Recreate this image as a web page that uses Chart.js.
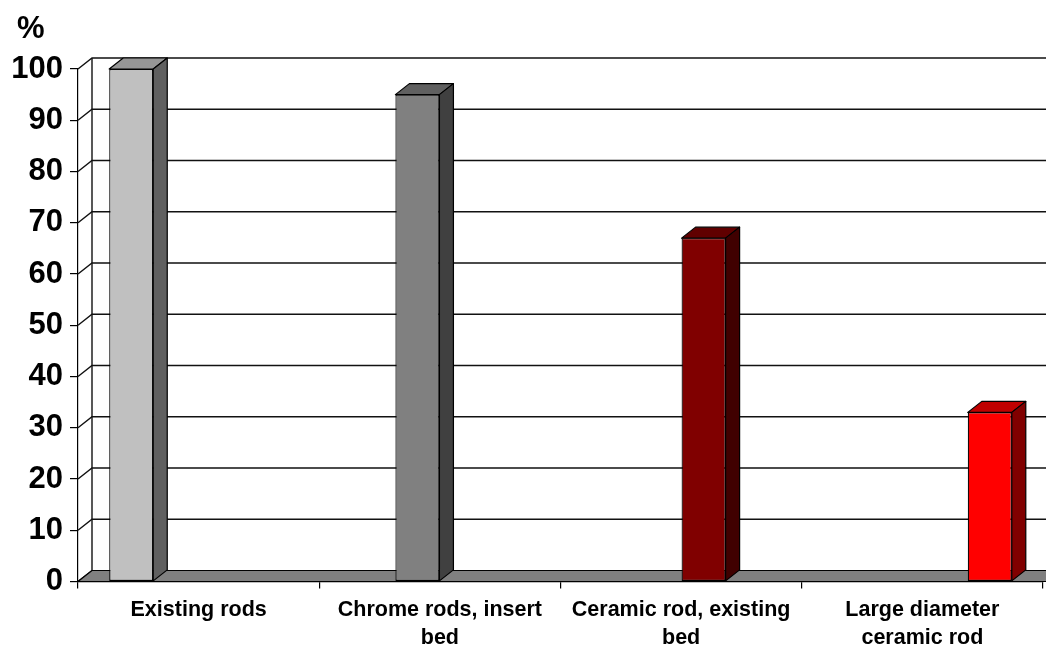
<!DOCTYPE html>
<html>
<head>
<meta charset="utf-8">
<script src="https://cdn.jsdelivr.net/npm/chart.js@4/dist/chart.umd.min.js"></script>
<style>
  html, body { margin: 0; padding: 0; background: #ffffff; }
  #wrap { width: 1046px; height: 648px; }
</style>
</head>
<body>
<div id="wrap"><canvas id="chart" width="1046" height="648"></canvas></div>
<script>
// Categories (multi-line tick labels)
const categories = [
  ['Existing rods'],
  ['Chrome rods, insert', 'bed'],
  ['Ceramic rod, existing', 'bed'],
  ['Large diameter', 'ceramic rod']
];
// One series per rod configuration, value in percent
const seriesNames = ['Existing rods', 'Chrome rods, insert bed', 'Ceramic rod, existing bed', 'Large diameter ceramic rod'];
const seriesValues = [100, 95, 67, 33];
// Y axis ticks
const yTicks = [0, 10, 20, 30, 40, 50, 60, 70, 80, 90, 100];

// Face colours for the pseudo-3D columns
const frontColors = ['#c0c0c0', '#808080', '#800000', '#ff0000'];
const topColors   = ['#969696', '#606060', '#600000', '#c00000'];
const sideColors  = ['#606060', '#404040', '#400000', '#800000'];

const DEPTH_X = 14;
const DEPTH_Y = 11;
const FONT = '"Liberation Sans", Arial, Helvetica, sans-serif';

const datasets = seriesNames.map((name, i) => ({
  label: name,
  data: categories.map((_, j) => (j === i ? seriesValues[i] : null)),
  backgroundColor: frontColors[i],
  borderColor: '#000000',
  borderWidth: 1.2,
  borderSkipped: false,
  categoryPercentage: 0.745,
  barPercentage: 0.98
}));

// Back wall, side wall, floor and column depth faces
const depthPlugin = {
  id: 'depth',
  beforeDatasetsDraw(chart) {
    const ctx = chart.ctx;
    const y = chart.scales.y;
    const area = chart.chartArea;
    const right = chart.width;
    ctx.save();
    ctx.strokeStyle = '#111111';
    ctx.lineWidth = 1.4;
    // back wall gridlines + side wall diagonals
    yTicks.forEach(v => {
      const fy = y.getPixelForValue(v);
      ctx.beginPath();
      ctx.moveTo(area.left, fy);
      ctx.lineTo(area.left + DEPTH_X, fy - DEPTH_Y);
      if (v > 0) ctx.lineTo(right, fy - DEPTH_Y);
      ctx.stroke();
    });
    // back vertical edge of side wall
    ctx.beginPath();
    ctx.moveTo(area.left + DEPTH_X, y.getPixelForValue(100) - DEPTH_Y);
    ctx.lineTo(area.left + DEPTH_X, y.getPixelForValue(0) - DEPTH_Y);
    ctx.stroke();
    // floor
    const f0 = y.getPixelForValue(0);
    ctx.beginPath();
    ctx.moveTo(area.left, f0);
    ctx.lineTo(right + 20, f0);
    ctx.lineTo(right + 20 + DEPTH_X, f0 - DEPTH_Y);
    ctx.lineTo(area.left + DEPTH_X, f0 - DEPTH_Y);
    ctx.closePath();
    ctx.fillStyle = '#808080';
    ctx.fill();
    ctx.strokeStyle = '#000000';
    ctx.lineWidth = 1.2;
    ctx.stroke();
    ctx.restore();
  },
  afterDatasetsDraw(chart) {
    const ctx = chart.ctx;
    ctx.save();
    ctx.strokeStyle = '#000000';
    ctx.lineWidth = 1.2;
    ctx.lineJoin = 'round';
    chart.data.datasets.forEach((ds, i) => {
      const meta = chart.getDatasetMeta(i);
      meta.data.forEach((bar, j) => {
        if (ds.data[j] === null) return;
        const p = bar.getProps(['x', 'y', 'base', 'width'], true);
        const l = p.x - p.width / 2;
        const r = p.x + p.width / 2;
        // top face
        ctx.beginPath();
        ctx.moveTo(l, p.y);
        ctx.lineTo(l + DEPTH_X, p.y - DEPTH_Y);
        ctx.lineTo(r + DEPTH_X, p.y - DEPTH_Y);
        ctx.lineTo(r, p.y);
        ctx.closePath();
        ctx.fillStyle = topColors[i];
        ctx.fill();
        ctx.stroke();
        // side face
        ctx.beginPath();
        ctx.moveTo(r, p.y);
        ctx.lineTo(r + DEPTH_X, p.y - DEPTH_Y);
        ctx.lineTo(r + DEPTH_X, p.base - DEPTH_Y);
        ctx.lineTo(r, p.base);
        ctx.closePath();
        ctx.fillStyle = sideColors[i];
        ctx.fill();
        ctx.stroke();
      });
    });
    // unit label above the value axis
    ctx.fillStyle = '#000000';
    ctx.font = 'bold 31px ' + FONT;
    ctx.textAlign = 'left';
    ctx.textBaseline = 'alphabetic';
    ctx.fillText('%', 17, 38);
    ctx.restore();
  }
};

new Chart(document.getElementById('chart'), {
  type: 'bar',
  data: { labels: categories, datasets },
  plugins: [depthPlugin],
  options: {
    responsive: false,
    animation: false,
    devicePixelRatio: 1,
    layout: { padding: { top: 69, right: 3, left: 0, bottom: 0 } },
    plugins: { legend: { display: false }, tooltip: { enabled: false } },
    scales: {
      x: {
        afterFit(scale) { scale.height = 66.5; },
        grid: { display: true, drawOnChartArea: false, offset: true, tickLength: 7, color: '#000000', lineWidth: 1.2 },
        border: { display: true, color: '#000000', width: 1.2 },
        ticks: {
          color: '#000000',
          padding: 8,
          maxRotation: 0,
          autoSkip: false,
          font: { family: FONT, size: 21.5, weight: 'bold', lineHeight: 1.28 }
        }
      },
      y: {
        min: 0,
        max: 100,
        afterFit(scale) { scale.width = 78; },
        afterBuildTicks(scale) { scale.ticks = yTicks.map(v => ({ value: v })); },
        grid: { display: true, drawOnChartArea: false, tickLength: 8, color: '#000000', lineWidth: 1.2 },
        border: { display: true, color: '#000000', width: 1.2 },
        ticks: {
          color: '#000000',
          padding: 7,
          font: { family: FONT, size: 31, weight: 'bold' }
        }
      }
    }
  }
});
</script>
</body>
</html>
